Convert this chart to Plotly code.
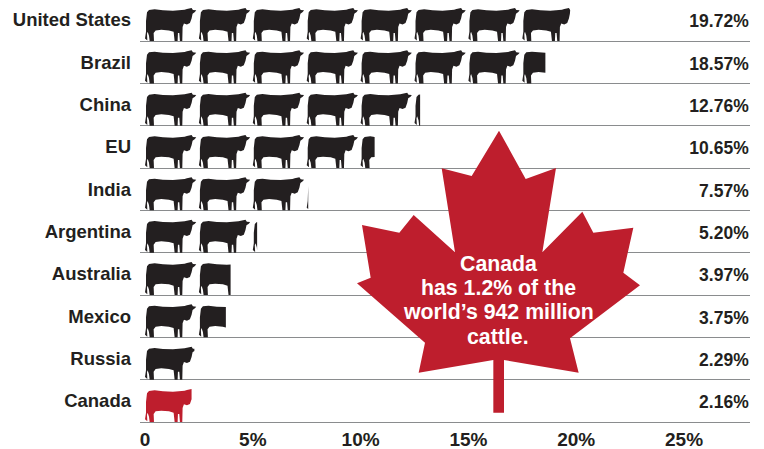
import plotly.graph_objects as go

# ---- data ----
categories = ["United States", "Brazil", "China", "EU", "India", "Argentina",
              "Australia", "Mexico", "Russia", "Canada"]
shares = [19.72, 18.57, 12.76, 10.65, 7.57, 5.20, 3.97, 3.75, 2.29, 2.16]
x_ticks = [0, 5, 10, 15, 20, 25]
x_tick_labels = ["0", "5%", "10%", "15%", "20%", "25%"]
note_lines = ["Canada", "has 1.2% of the", "world’s 942 million", "cattle."]
note_line_px = [264, 288, 312, 337]

BLACK = "#231f20"
RED = "#be1e2d"
GREY = "#8a8c8e"
FONT = "Liberation Sans"
UNITS_PER_COW = 2.5
W, H = 764, 449
ML, MR, MT, MB = 140, 14, 0, 27

# cow silhouette glyph, traced at 3x: (x, y) with baseline y=120 and left x=46
COW_GLYPH = [(52,34),(58,27),(75,25),(100,28),(130,29),(150,28),(165,26),(172,24),(186,21),(190,27),
             (200,28),(196,33),(189,38),(186,52),(181,66),(172,70),(163,67),(159,78),(158,92),(158,120),
             (151,120),(149,96),(145,96),(144,120),(135,120),(132,92),(118,88),(95,86),(78,88),(72,96),
             (73,120),(60,120),(58,104),(54,92),(52,98),(53,118),(46,112),(49,92),(49,60)]
GLYPH_X0, GLYPH_BASE, GLYPH_PERIOD = 46, 120, 162
ROW_PX = 42.3
glyph = [((x - GLYPH_X0) / GLYPH_PERIOD * UNITS_PER_COW, (GLYPH_BASE - y) / 3 / ROW_PX) for x, y in COW_GLYPH]

# maple-leaf outline in window pixels
LEAF_ZOOM = [(477,32),(557,177),(648,144),(607,397),(727,275),(760,338),(880,323),(850,458),(900,496),
             (690,655),(716,758),(492,720),(492,878),(460,878),(460,720),(236,758),(255,668),(51,490),
             (92,473),(66,315),(178,338),(221,285),(345,397),(305,145),(395,168)]
leaf_px = [(340 + x / 3, 120 + y / 3) for x, y in LEAF_ZOOM]


def clip_right(poly, xmax):
    """Cut a polygon at the vertical line x = xmax."""
    out = []
    for i, (x1, y1) in enumerate(poly):
        x2, y2 = poly[(i + 1) % len(poly)]
        if x1 <= xmax:
            out.append((x1, y1))
        if (x1 <= xmax) != (x2 <= xmax):
            t = (xmax - x1) / (x2 - x1)
            out.append((xmax, y1 + t * (y2 - y1)))
    return out


fig = go.Figure()
for i, (name, value) in enumerate(zip(categories, shares)):
    xs, ys = [], []
    start = 0.0
    while start < value:
        poly = clip_right([(start + u, i + 1 - v) for u, v in glyph], value)
        if poly:
            xs += [p[0] for p in poly] + [poly[0][0], None]
            ys += [p[1] for p in poly] + [poly[0][1], None]
        start += UNITS_PER_COW
    colour = RED if name == "Canada" else BLACK
    fig.add_trace(go.Scatter(x=xs, y=ys, mode="lines", fill="toself", fillcolor=colour,
                             line=dict(width=0, color=colour), hoverinfo="skip",
                             showlegend=False, name=name))

fig.add_trace(go.Scatter(x=[28.0] * len(shares), y=[i + 0.57 for i in range(len(shares))],
                         mode="text", text=[f"{v:.2f}%" for v in shares],
                         textposition="middle left",
                         textfont=dict(family=FONT, size=17.5, color=BLACK, weight="bold"),
                         cliponaxis=False, showlegend=False, hoverinfo="skip"))

plot_w, plot_h = W - ML - MR, H - MT - MB
path = "M" + " L".join(f"{(x - ML) / plot_w:.5f},{1 - (y - MT) / plot_h:.5f}" for x, y in leaf_px) + " Z"
fig.add_shape(type="path", path=path, xref="paper", yref="paper",
              fillcolor=RED, line=dict(width=0), layer="above")
for line, ypx in zip(note_lines, note_line_px):
    fig.add_annotation(xref="paper", yref="paper", x=(498 - ML) / plot_w, y=1 - (ypx - MT) / plot_h,
                       xanchor="center", yanchor="middle",
                       text=line, showarrow=False, align="center",
                       font=dict(family=FONT, size=21.3, color="white", weight="bold"))

fig.update_layout(
    width=W, height=H, margin=dict(l=ML, r=MR, t=MT, b=MB, pad=0),
    paper_bgcolor="white", plot_bgcolor="white", showlegend=False,
    xaxis=dict(range=[-0.232, 28.06], tickmode="array", tickvals=x_ticks, ticktext=x_tick_labels,
               showgrid=False, zeroline=False, showline=True, linecolor=GREY, linewidth=1.3,
               ticks="", ticklabelstandoff=0, automargin=False,
               tickfont=dict(family=FONT, size=19, color=BLACK, weight="bold")),
    yaxis=dict(range=[10, 0.03], tickmode="array", tickvals=[i + 0.5 for i in range(len(categories))],
               ticktext=categories, showgrid=False, zeroline=False, showline=False, ticks="",
               ticklabelstandoff=8, automargin=False,
               tickfont=dict(family=FONT, size=18.5, color=BLACK, weight="bold"),
               minor=dict(tickmode="array", tickvals=list(range(1, 11)), showgrid=True,
                          gridcolor=GREY, gridwidth=1.3, ticks="")),
)
fig.write_html("out.html", config=dict(displayModeBar=False),
               post_script="document.body.style.margin='0';document.body.style.overflow='hidden';")
